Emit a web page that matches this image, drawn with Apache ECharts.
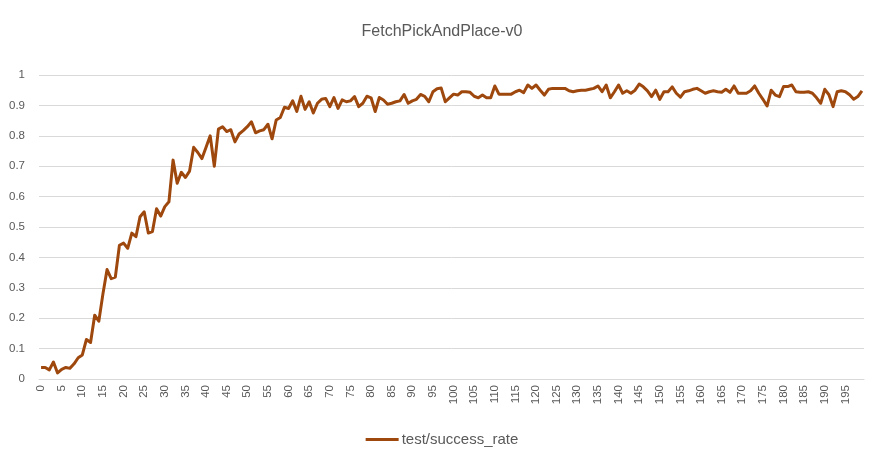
<!DOCTYPE html>
<html>
<head>
<meta charset="utf-8">
<script src="https://cdn.jsdelivr.net/npm/echarts@6/dist/echarts.min.js"></script>
<style>
html,body{margin:0;padding:0;background:#fff;}
#chart{width:884px;height:459px;}
</style>
</head>
<body>
<div id="chart"></div>
<script>
const titleText = "FetchPickAndPlace-v0";
const seriesName = "test/success_rate";
const categories = Array.from({length: 200}, (_, i) => String(i));
const successRate = [
0.038,0.038,0.03,0.056,0.02,0.032,0.038,0.035,0.05,0.07,
0.079,0.13,0.12,0.21,0.19,0.28,0.36,0.33,0.335,0.44,
0.447,0.43,0.48,0.468,0.534,0.55,0.48,0.485,0.56,0.536,
0.567,0.583,0.72,0.644,0.68,0.663,0.684,0.762,0.745,0.725,
0.762,0.80,0.70,0.822,0.83,0.814,0.82,0.78,0.806,0.817,
0.83,0.846,0.81,0.816,0.82,0.838,0.79,0.852,0.86,0.894,
0.89,0.915,0.88,0.93,0.887,0.912,0.875,0.907,0.92,0.923,
0.896,0.926,0.89,0.918,0.912,0.915,0.929,0.896,0.907,0.93,
0.925,0.88,0.926,0.918,0.904,0.907,0.912,0.915,0.936,0.907,
0.915,0.92,0.936,0.93,0.912,0.945,0.955,0.957,0.912,0.925,
0.937,0.934,0.945,0.945,0.943,0.93,0.925,0.934,0.925,0.925,
0.964,0.937,0.937,0.937,0.937,0.945,0.95,0.942,0.967,0.956,
0.967,0.95,0.934,0.953,0.956,0.956,0.956,0.956,0.948,0.945,
0.948,0.95,0.95,0.953,0.956,0.964,0.945,0.967,0.925,0.945,
0.967,0.94,0.948,0.94,0.95,0.97,0.961,0.948,0.929,0.95,
0.92,0.945,0.945,0.961,0.94,0.927,0.945,0.948,0.953,0.956,
0.948,0.94,0.945,0.948,0.945,0.943,0.953,0.943,0.964,0.94,
0.94,0.94,0.948,0.964,0.94,0.92,0.898,0.95,0.934,0.929,
0.962,0.962,0.967,0.945,0.943,0.943,0.945,0.94,0.925,0.907,
0.953,0.935,0.896,0.945,0.948,0.945,0.935,0.92,0.929,0.948
];
const yMin = 0, yMax = 1, yStep = 0.1;

const chart = echarts.init(document.getElementById('chart'), null, {renderer: 'canvas'});
const textColor = '#595959';
const fontFam = '"Liberation Sans", Arial, sans-serif';
chart.setOption({
  animation: false,
  backgroundColor: '#ffffff',
  title: {
    text: titleText,
    left: 'center',
    top: 19,
    textStyle: {fontSize: 16, fontWeight: 'normal', color: textColor, fontFamily: fontFam}
  },
  legend: {
    data: [seriesName],
    bottom: 7,
    left: 'center',
    itemWidth: 33,
    itemHeight: 3,
    itemGap: 10,
    icon: 'rect',
    textStyle: {fontSize: 15, color: textColor, fontFamily: fontFam, padding: [0,0,0,-2]}
  },
  grid: {left: 39, right: 20, top: 75, bottom: 80, containLabel: false},
  xAxis: {
    type: 'category',
    data: categories,
    boundaryGap: true,
    axisLine: {show: true, lineStyle: {color: '#d9d9d9', width: 1}},
    axisTick: {show: false},
    axisLabel: {interval: 4, rotate: 90, fontSize: 11.5, color: textColor, fontFamily: fontFam, margin: 6}
  },
  yAxis: {
    type: 'value',
    min: yMin, max: yMax, interval: yStep,
    axisLine: {show: false},
    axisTick: {show: false},
    splitLine: {lineStyle: {color: '#d9d9d9', width: 1}},
    axisLabel: {fontSize: 11.5, color: textColor, fontFamily: fontFam, margin: 14,
      formatter: v => String(Math.round(v * 10) / 10)}
  },
  series: [{
    name: seriesName,
    type: 'line',
    data: successRate,
    showSymbol: false,
    symbol: 'none',
    lineStyle: {color: '#9E480E', width: 3, join: 'round'},
    itemStyle: {color: '#9E480E'}
  }]
});
</script>
</body>
</html>
